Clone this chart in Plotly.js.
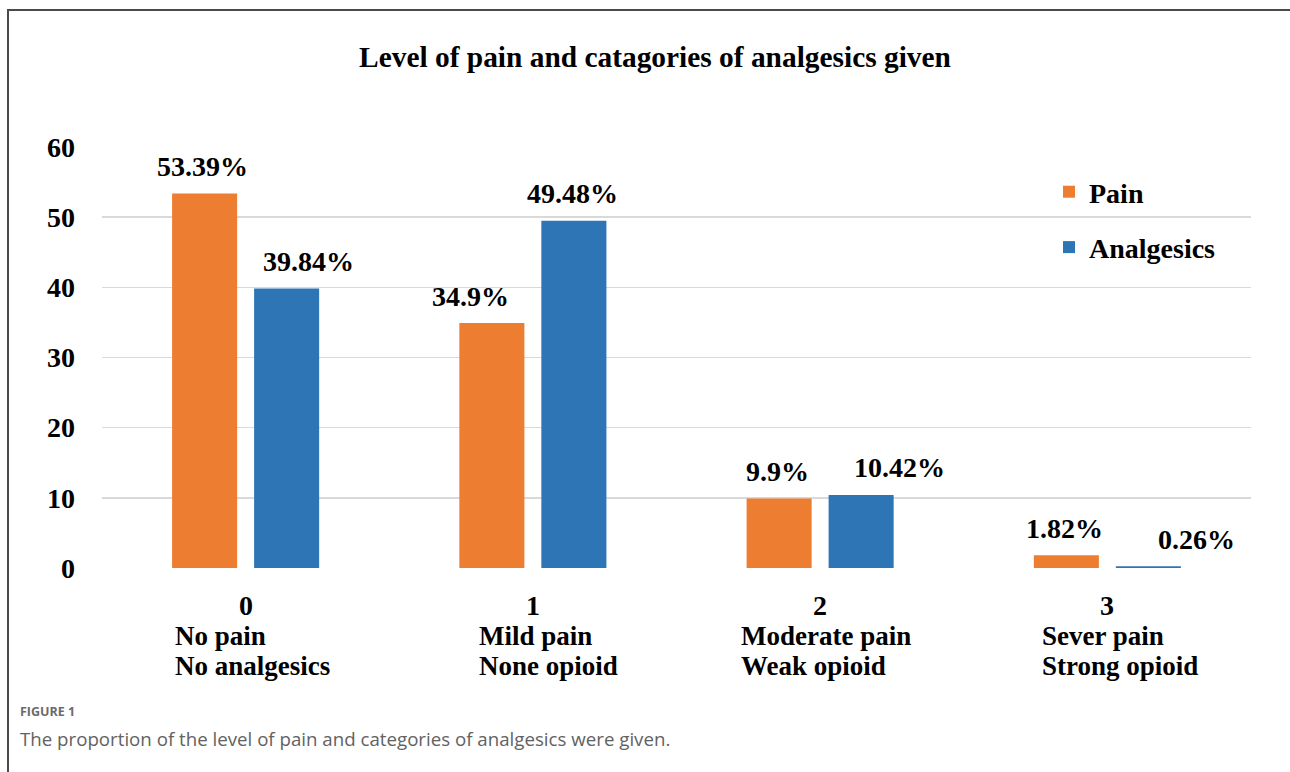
<!DOCTYPE html>
<html><head><meta charset="utf-8">
<script src="https://cdn.plot.ly/plotly-3.0.1.min.js"></script>
<style>
html,body{margin:0;padding:0;background:#fff;overflow:hidden;}
#wrap{position:relative;width:1290px;height:772px;overflow:hidden;}
#chart{width:1290px;height:772px;}
#frame{position:absolute;left:7px;top:9px;width:1300px;height:800px;border-left:2px solid #4a4a4a;border-top:2px solid #4a4a4a;pointer-events:none;}
</style></head><body>
<div id="wrap"><div id="chart"></div><div id="frame"></div></div>
<script>
// ---- data ----
const categories = ['0', '1', '2', '3'];
const painLevels = ['No pain', 'Mild pain', 'Moderate pain', 'Sever pain'];
const analgesicCategories = ['No analgesics', 'None opioid', 'Weak opioid', 'Strong opioid'];
const painValues = [53.39, 34.9, 9.9, 1.82];
const analgesicValues = [39.84, 49.48, 10.42, 0.26];
const yTickValues = [0, 10, 20, 30, 40, 50, 60];
const seriesNames = ['Pain', 'Analgesics'];

// ---- label nudges (pixels) ----
const painLabelDx = [-2, -21, -2, -2];
const analgesicLabelDx = [22, -1, 38, 48];
const categoryTextDx = [-73, -56, -81, -67];

// ---- geometry ----
const L = 102, R = 1251, T = 147, B = 568, W = 1290, H = 772;
const px2x = p => (p - L) / (R - L);
const py2y = p => (B - p) / (B - T);
const serif = "'Liberation Serif', 'Times New Roman', serif";
const sans = "'Open Sans', 'Noto Sans', sans-serif";
const orange = '#ED7D31', blue = '#2E75B6';

const traces = [
  {type: 'bar', name: seriesNames[0], x: categories, y: painValues,
   marker: {color: orange}, legendgroup: 'a', hoverinfo: 'none'},
  {type: 'bar', name: seriesNames[1], x: categories, y: analgesicValues,
   marker: {color: blue}, legendgroup: 'b', hoverinfo: 'none'}
];

const ann = [];
const slot = 41;
const boldSerif = size => ({family: serif, size: size, color: '#000', weight: 'bold'});
categories.forEach((c, i) => {
  ann.push({x: c, xref: 'x', y: painValues[i], yref: 'y', xshift: -slot + painLabelDx[i], yshift: 27,
    yanchor: 'middle', xanchor: 'center', showarrow: false, text: painValues[i] + '%', font: boldSerif(28)});
  ann.push({x: c, xref: 'x', y: analgesicValues[i], yref: 'y', xshift: slot + analgesicLabelDx[i], yshift: 27,
    yanchor: 'middle', xanchor: 'center', showarrow: false, text: analgesicValues[i] + '%', font: boldSerif(28)});
  ann.push({x: c, xref: 'x', y: py2y(605), yref: 'paper', yanchor: 'middle', xanchor: 'center',
    showarrow: false, text: c, font: boldSerif(28)});
  [painLevels[i], analgesicCategories[i]].forEach((t, k) => {
    ann.push({x: c, xref: 'x', y: py2y(636 + 30 * k), yref: 'paper', yanchor: 'middle', xanchor: 'left',
      xshift: categoryTextDx[i], showarrow: false, text: t, font: boldSerif(27)});
  });
});
// caption
ann.push({x: px2x(18), xref: 'paper', y: py2y(711), yref: 'paper', xanchor: 'left', yanchor: 'middle',
  showarrow: false, text: '<b>FIGURE 1</b>', font: {family: sans, size: 12.5, color: '#6b6b6b'}});
ann.push({x: px2x(18), xref: 'paper', y: py2y(738), yref: 'paper', xanchor: 'left', yanchor: 'middle',
  showarrow: false, text: 'The proportion of the level of pain and categories of analgesics were given.',
  font: {family: sans, size: 18.7, color: '#626262'}});

const layout = {
  width: W, height: H,
  margin: {l: L, r: W - R, t: T, b: H - B, pad: 0},
  paper_bgcolor: '#fff', plot_bgcolor: '#fff',
  title: {text: 'Level of pain and catagories of analgesics given', x: 655 / W, xanchor: 'center',
    y: 1 - 57 / H, yanchor: 'middle', xref: 'container', yref: 'container',
    font: {family: serif, size: 29.4, color: '#000', weight: 'bold'}},
  barmode: 'group', bargap: 0.429, bargroupgap: 0.207,
  xaxis: {type: 'category', showticklabels: false, showgrid: false, zeroline: false, showline: false, ticks: ''},
  yaxis: {range: [0, 60], tickvals: yTickValues, showgrid: true, gridcolor: '#d9d9d9', gridwidth: 1.5,
    zeroline: false, showline: false, ticks: '', ticklabelstandoff: 26, tickfont: boldSerif(28)},
  showlegend: true,
  legend: {x: px2x(1049), xanchor: 'left', y: py2y(167), yanchor: 'top', bgcolor: 'rgba(0,0,0,0)',
    traceorder: 'grouped', tracegroupgap: 16, font: boldSerif(28)},
  annotations: ann
};

Plotly.newPlot('chart', traces, layout, {displayModeBar: false, staticPlot: true});
</script>
</body></html>
